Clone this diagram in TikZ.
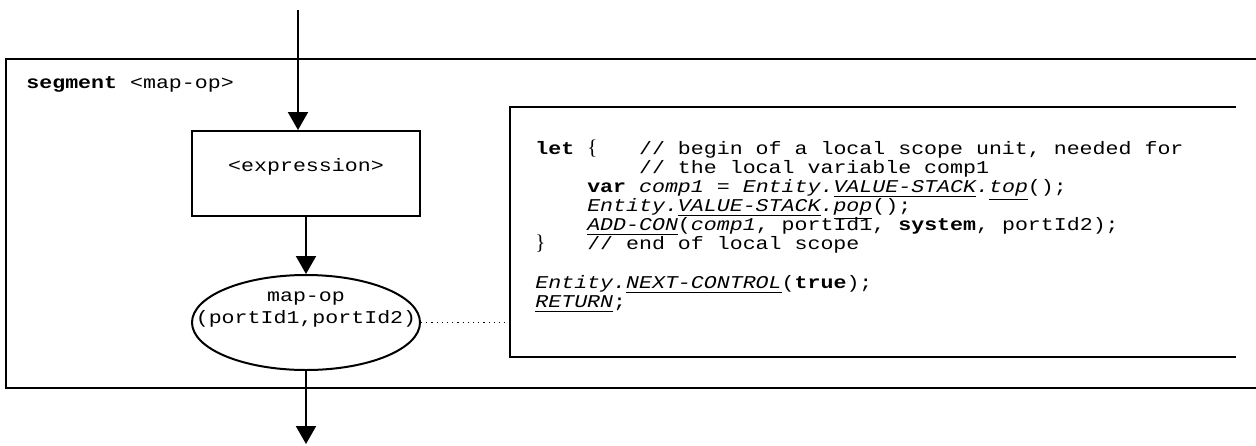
\documentclass[tikz,border=0pt]{standalone}
\usepackage{fontspec}
\setmainfont{Liberation Serif}
\setmonofont[FakeStretch=1.2]{Liberation Mono}
\usetikzlibrary{arrows.meta, positioning, shapes.geometric}
\newcommand{\cul}[1]{\underline{#1}}
\newcommand{\rbrc}[1]{\makebox[6.48pt][l]{\rmfamily\fontsize{10.5}{9.5}\selectfont#1}}
\newcommand{\codesize}{\fontsize{9}{9.5}\selectfont\lineskiplimit=-20pt\relax}

\begin{document}
\begin{tikzpicture}[
  x=0.5pt, y=-0.5pt,
  font=\ttfamily\fontsize{9}{11}\selectfont,
  frame/.style={line width=1pt},
  stepbox/.style={draw, line width=1pt, minimum width=114pt, minimum height=42.5pt,
                  inner sep=0pt, text height=5pt, text depth=7.5pt},
  opnode/.style={draw, ellipse, line width=1pt, minimum width=114pt,
                 minimum height=47.5pt, inner sep=0pt},
  flow/.style={-{Triangle[length=9pt, width=10pt]}, line width=1pt},
  dotline/.style={dotted, line width=0.6pt},
  node distance=28.5pt,
]
\useasboundingbox (0,0) rectangle (1256,445);

% segment frame, open to the right
\draw[frame] (1256,59) -- (6,59) -- (6,388) -- (1256,388);
\node[anchor=west, inner sep=0pt] (title) at (26,84) {\textbf{segment} <map-op>};

\coordinate (entry) at (298,10);
\node[stepbox] (expr) at (306,173.5) {<expression>};
\node[opnode, below=of expr] (op) {};
\node[align=center, inner sep=0pt] (optext) at (306,310) {map-op\\(portId1,portId2)};
\coordinate (exit) at (306,444);

\draw[flow] (entry) -- (entry |- expr.north);
\draw[flow] (expr) -- (op);
\draw[flow] (op) -- (exit);

% comment symbol with the operational code
\node[minimum width=363pt, minimum height=125pt, inner sep=0pt] (code) at (873,232) {};
\draw[frame] (code.north east) -- (code.north west) -- (code.south west) -- (code.south east);
\node[anchor=north west, align=left, inner sep=0pt,
      font=\ttfamily\codesize] (codetxt) at (535,140) {%
\textbf{let} \rbrc{\{}~~~// begin of a local scope unit, needed for\\
~~~~~~~~// the local variable comp1\\
~~~~\textbf{var} \textit{comp1} = \textit{Entity.\cul{VALUE-STACK}.\cul{top}}();\\
~~~~\textit{Entity.\cul{VALUE-STACK}.\cul{pop}}();\\
~~~~\textit{\cul{ADD-CON}}(\textit{comp1}, portId1, \textbf{system}, portId2);\\
\rbrc{\}}~~~// end of local scope\\[10pt]
\textit{Entity.\cul{NEXT-CONTROL}}(\textbf{true});\\
\textit{\cul{RETURN}};};

\draw[dotline] (op.east) -- (op.east -| code.west);
\end{tikzpicture}
\end{document}
